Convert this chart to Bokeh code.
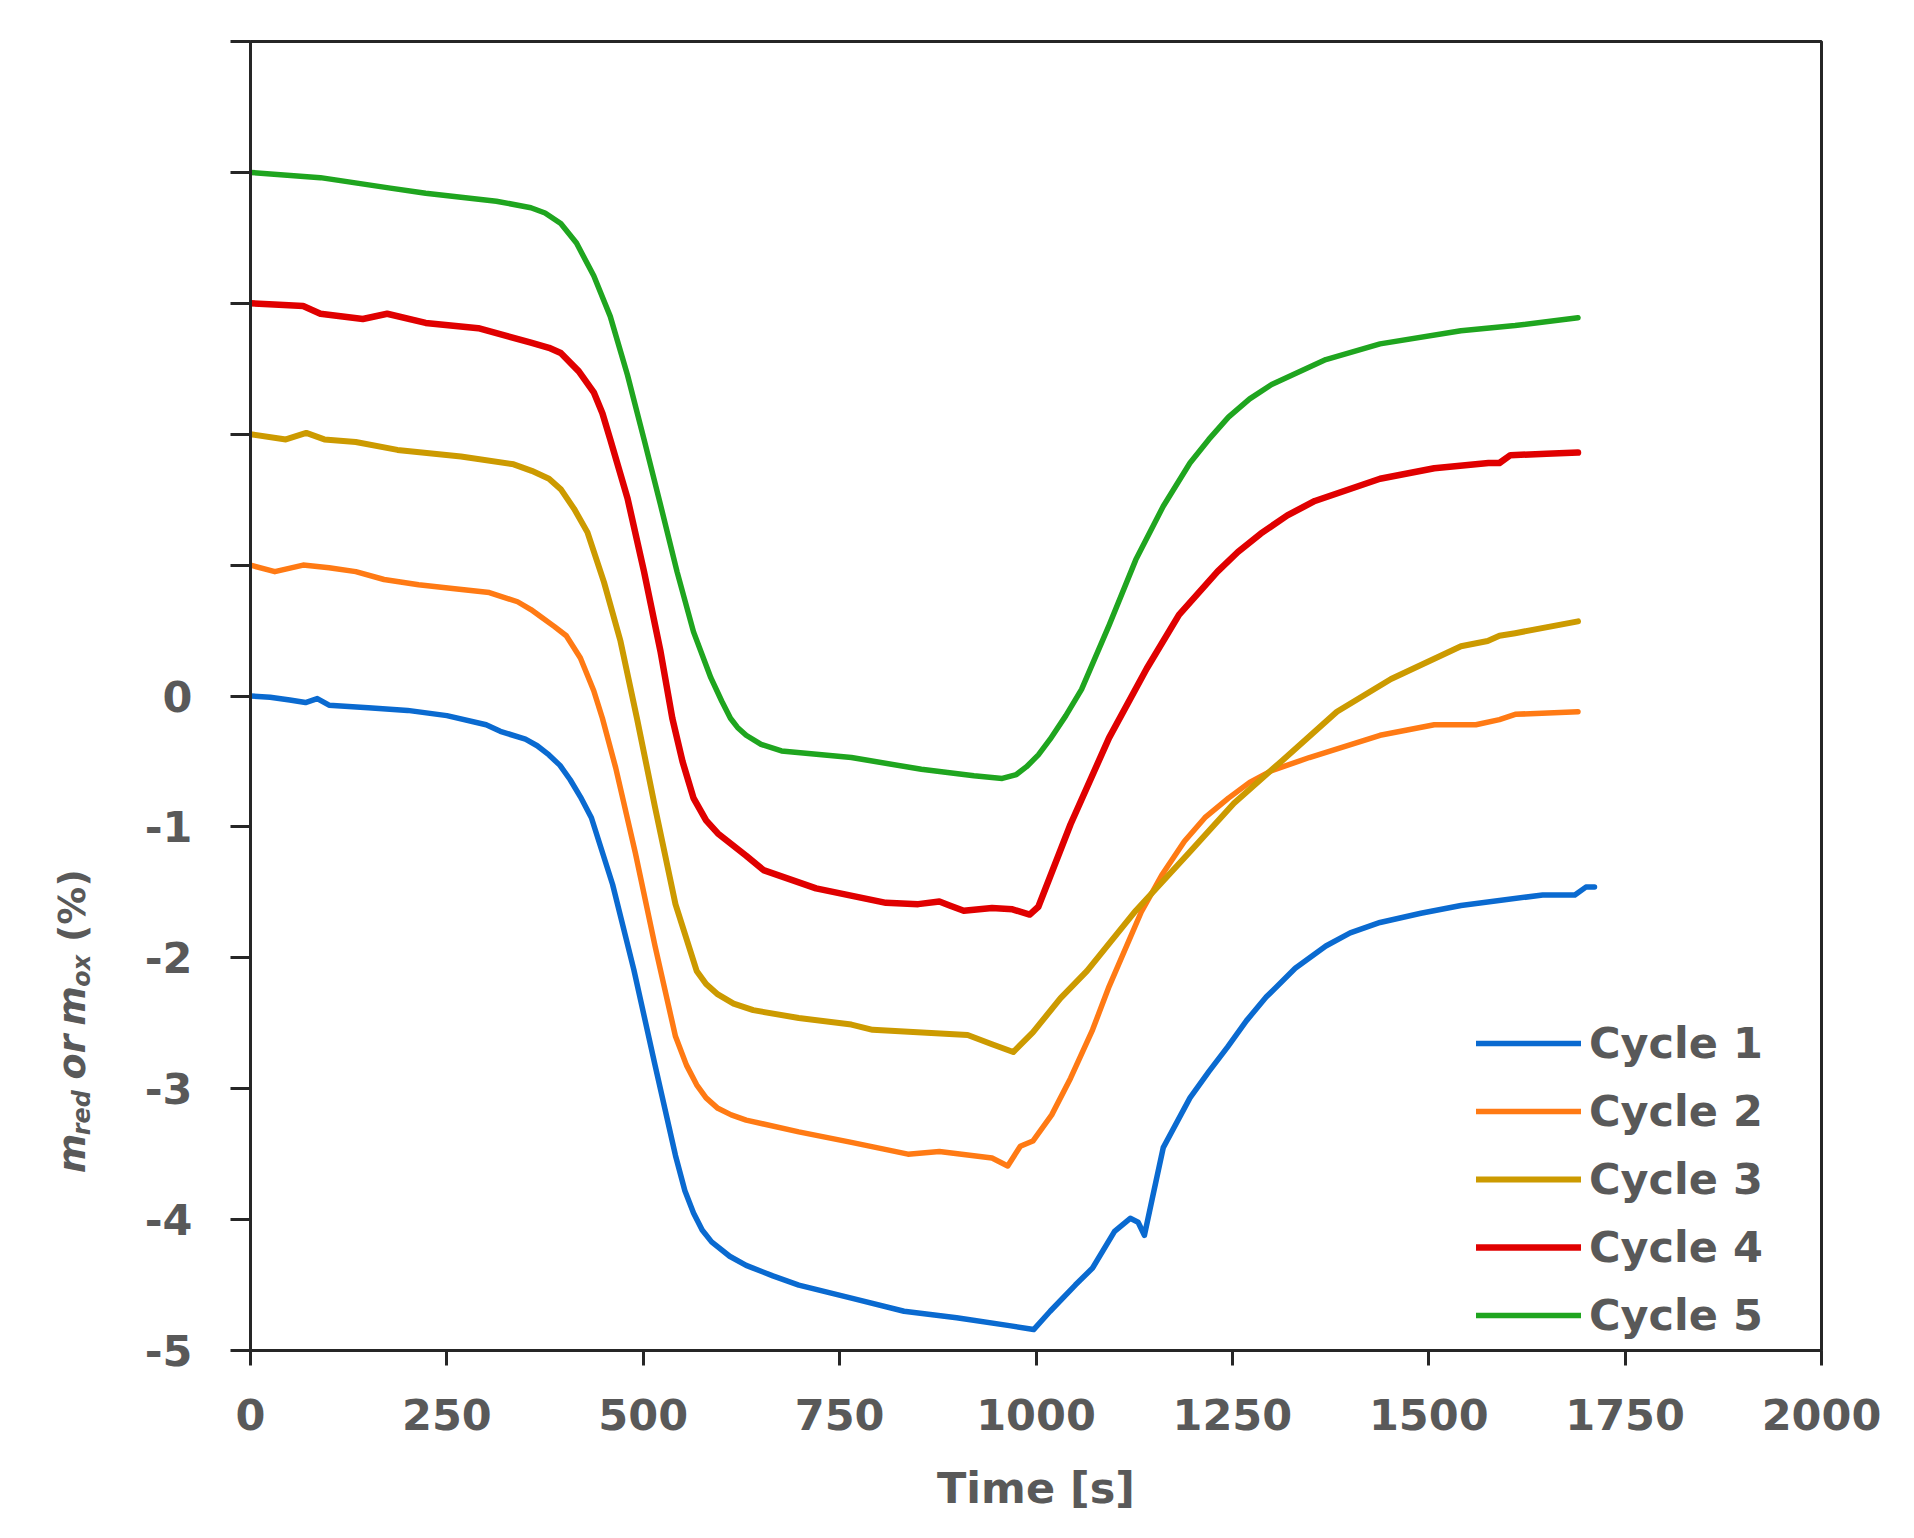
import math

from bokeh.plotting import figure
from bokeh.layouts import row
from bokeh.models import Range1d, FixedTicker
from bokeh.core.properties import value
from bokeh.embed import file_html
from bokeh.resources import INLINE

# values: time [s] and mass change [%]
cycle1_t = [0, 25, 50, 70, 85, 100, 150, 200, 250, 300, 318, 350, 365, 380, 394, 407, 420, 434, 461, 488,
            515, 541, 553, 564, 575, 587, 610, 631, 665, 698, 765, 832, 899, 966, 997, 1018, 1050, 1072, 1100,
            1120, 1130, 1138, 1148, 1162, 1196, 1220, 1244, 1268, 1293, 1330, 1369, 1400, 1438, 1490, 1541,
            1645, 1686, 1700, 1711]
cycle1_v = [0.0, -0.01, -0.03, -0.05, -0.02, -0.07, -0.09, -0.11, -0.15, -0.22, -0.27, -0.33, -0.38, -0.45,
            -0.53, -0.64, -0.77, -0.93, -1.44, -2.09, -2.82, -3.51, -3.78, -3.95, -4.08, -4.17, -4.28, -4.35,
            -4.43, -4.50, -4.60, -4.70, -4.75, -4.81, -4.84, -4.70, -4.50, -4.37, -4.09, -3.99, -4.02, -4.12,
            -3.84, -3.45, -3.07, -2.87, -2.68, -2.48, -2.30, -2.08, -1.91, -1.81, -1.73, -1.66, -1.60, -1.52,
            -1.52, -1.46, -1.46]

cycle2_t = [0, 31, 67, 100, 134, 170, 214, 260, 304, 340, 357, 371, 387, 402, 420, 437, 448, 465, 490, 515,
            541, 555, 568, 580, 595, 612, 631, 698, 765, 837, 877, 944, 964, 980, 996, 1020, 1044, 1072, 1093,
            1134, 1160, 1189, 1215, 1245, 1272, 1300, 1348, 1438, 1507, 1560, 1590, 1610, 1690]
cycle2_v = [1.0, 0.95, 1.0, 0.98, 0.95, 0.89, 0.85, 0.82, 0.79, 0.72, 0.66, 0.60, 0.53, 0.46, 0.29, 0.04,
            -0.17, -0.55, -1.20, -1.91, -2.60, -2.82, -2.97, -3.07, -3.15, -3.20, -3.24, -3.33, -3.41, -3.50,
            -3.48, -3.53, -3.59, -3.44, -3.40, -3.20, -2.92, -2.55, -2.22, -1.65, -1.37, -1.11, -0.93, -0.78,
            -0.66, -0.57, -0.47, -0.30, -0.22, -0.22, -0.18, -0.14, -0.12]

cycle3_t = [0, 45, 71, 94, 134, 187, 268, 335, 358, 380, 395, 412, 429, 450, 471, 492, 515, 541, 568, 580,
            595, 615, 640, 698, 765, 792, 855, 913, 944, 971, 996, 1031, 1065, 1127, 1196, 1252, 1314, 1383,
            1452, 1541, 1575, 1590, 1610, 1690]
cycle3_v = [2.0, 1.96, 2.01, 1.96, 1.94, 1.88, 1.83, 1.77, 1.72, 1.66, 1.58, 1.43, 1.25, 0.87, 0.42, -0.17,
            -0.85, -1.59, -2.10, -2.20, -2.28, -2.35, -2.40, -2.46, -2.51, -2.55, -2.57, -2.59, -2.66, -2.72,
            -2.57, -2.31, -2.10, -1.64, -1.19, -0.82, -0.49, -0.12, 0.13, 0.38, 0.42, 0.46, 0.48, 0.57]

cycle4_t = [0, 30, 67, 89, 143, 174, 223, 290, 357, 380, 395, 418, 437, 448, 458, 480, 501, 522, 537, 550,
            564, 580, 595, 631, 653, 720, 809, 850, 877, 890, 908, 944, 970, 992, 1003, 1044, 1093, 1141, 1182,
            1231, 1257, 1286, 1320, 1355, 1438, 1507, 1576, 1590, 1604, 1650, 1690]
cycle4_v = [3.0, 2.99, 2.98, 2.92, 2.88, 2.92, 2.85, 2.81, 2.70, 2.66, 2.62, 2.48, 2.32, 2.16, 1.96, 1.51,
            0.95, 0.34, -0.17, -0.50, -0.78, -0.95, -1.05, -1.22, -1.33, -1.47, -1.58, -1.59, -1.57, -1.60,
            -1.64, -1.62, -1.63, -1.67, -1.61, -0.98, -0.32, 0.21, 0.62, 0.95, 1.10, 1.24, 1.38, 1.49, 1.66,
            1.74, 1.78, 1.78, 1.84, 1.85, 1.86]

cycle5_t = [0, 89, 178, 223, 313, 357, 375, 395, 415, 437, 458, 480, 501, 522, 543, 564, 586, 600, 611, 620,
            631, 650, 676, 765, 854, 921, 957, 975, 988, 1003, 1018, 1038, 1058, 1093, 1127, 1162, 1196, 1220,
            1245, 1272, 1300, 1369, 1438, 1541, 1610, 1690]
cycle5_v = [4.0, 3.96, 3.88, 3.84, 3.78, 3.73, 3.69, 3.61, 3.46, 3.21, 2.90, 2.45, 1.96, 1.46, 0.95, 0.49,
            0.14, -0.04, -0.17, -0.24, -0.30, -0.37, -0.42, -0.47, -0.56, -0.61, -0.63, -0.60, -0.54, -0.45,
            -0.33, -0.15, 0.05, 0.54, 1.04, 1.45, 1.78, 1.96, 2.13, 2.27, 2.38, 2.57, 2.69, 2.79, 2.83, 2.89]

series_names = ["Cycle 1", "Cycle 2", "Cycle 3", "Cycle 4", "Cycle 5"]
x_ticks = [0, 250, 500, 750, 1000, 1250, 1500, 1750, 2000]
y_ticks = [-5, -4, -3, -2, -1, 0, 1, 2, 3, 4, 5]
y_labels = {-5: "-5", -4: "-4", -3: "-3", -2: "-2", -1: "-1", 0: "0",
            1: "", 2: "", 3: "", 4: "", 5: ""}

colors = ["#0a6ad0", "#ff7a14", "#cc9a00", "#e00000", "#1fa51f"]
widths = [5.5, 5.5, 6, 6.5, 5.5]

AXIS = "#262626"
TEXT = "#595959"
FONT = "DejaVu Sans"

LABEL_W = 120   # width of the strip that holds the y axis title
H = 1515
TOP, BOTTOM = 41, 160

p = figure(width=1770, height=H, output_backend="svg", toolbar_location=None, tools="",
           x_range=Range1d(0, 2000), y_range=Range1d(-5, 5),
           min_border_left=130, min_border_right=69, min_border_top=TOP, min_border_bottom=BOTTOM)
p.title.visible = False

data = [(cycle1_t, cycle1_v), (cycle2_t, cycle2_v), (cycle3_t, cycle3_v),
        (cycle4_t, cycle4_v), (cycle5_t, cycle5_v)]
for (t, v), name, c, w in zip(data, series_names, colors, widths):
    p.line(t, v, line_color=c, line_width=w, line_join="round", line_cap="round", legend_label=name)

p.xgrid.grid_line_color = None
p.ygrid.grid_line_color = None

# box around the plot area
p.outline_line_color = AXIS
p.outline_line_width = 3
p.outline_line_alpha = 1

p.xaxis.ticker = FixedTicker(ticks=x_ticks)
p.yaxis.ticker = FixedTicker(ticks=y_ticks)
p.yaxis.major_label_overrides = y_labels

for ax in (p.xaxis, p.yaxis):
    ax.axis_line_color = AXIS
    ax.axis_line_width = 3
    ax.major_tick_line_color = AXIS
    ax.major_tick_line_width = 3
    ax.major_tick_in = 0
    ax.minor_tick_line_color = None
    ax.major_label_text_font = FONT
    ax.major_label_text_font_style = "bold"
    ax.major_label_text_font_size = "43px"
    ax.major_label_text_color = TEXT

p.xaxis.major_tick_out = 15
p.yaxis.major_tick_out = 20
p.xaxis.major_label_standoff = 33
p.yaxis.major_label_standoff = 38

p.xaxis.axis_label = "Time [s]"
p.xaxis.axis_label_text_font = FONT
p.xaxis.axis_label_text_font_style = "bold"
p.xaxis.axis_label_text_font_size = "43px"
p.xaxis.axis_label_text_color = TEXT
p.xaxis.axis_label_standoff = 30

p.legend.location = "bottom_right"
p.legend.margin = 6
p.legend.padding = 0
p.legend.spacing = 10
p.legend.glyph_width = 105
p.legend.glyph_height = 58
p.legend.label_height = 58
p.legend.label_width = 226
p.legend.label_standoff = 8
p.legend.border_line_color = None
p.legend.background_fill_alpha = 0
p.legend.label_text_font = FONT
p.legend.label_text_font_style = "bold"
p.legend.label_text_font_size = "43px"
p.legend.label_text_color = TEXT

# y axis title in its own strip that shares the vertical scale of the chart
ylab = figure(width=LABEL_W, height=H, output_backend="svg", toolbar_location=None, tools="",
              x_range=Range1d(0, LABEL_W), y_range=Range1d(-5, 5),
              min_border_left=0, min_border_right=0, min_border_top=TOP, min_border_bottom=BOTTOM,
              x_axis_location=None, y_axis_location=None)
ylab.title.visible = False
ylab.grid.visible = False
ylab.outline_line_color = None

px_per_unit = (H - TOP - BOTTOM) / 10.0
base_x = 71
base_v = -3.645
sub_shift = 10
# text, font size, style, distance along the label in px, subscript
pieces = [
    ("m", 38, "bold italic", 0, False),
    ("red", 24, "bold italic", 38, True),
    ("or", 38, "bold italic", 94, False),
    ("m", 38, "bold italic", 148, False),
    ("ox", 24, "bold italic", 187, True),
    ("(%)", 38, "bold", 232, False),
]
for txt, size, style, along, sub in pieces:
    ylab.text(x=[base_x + (sub_shift if sub else 0)], y=[base_v + along / px_per_unit], text=[txt],
              angle=math.pi / 2, text_font=value(FONT), text_font_style=style,
              text_font_size="%dpx" % size, text_color=TEXT, text_baseline="alphabetic",
              text_align="left")

layout = row(ylab, p, spacing=0)

open("out.html", "w").write(file_html(layout, INLINE))
